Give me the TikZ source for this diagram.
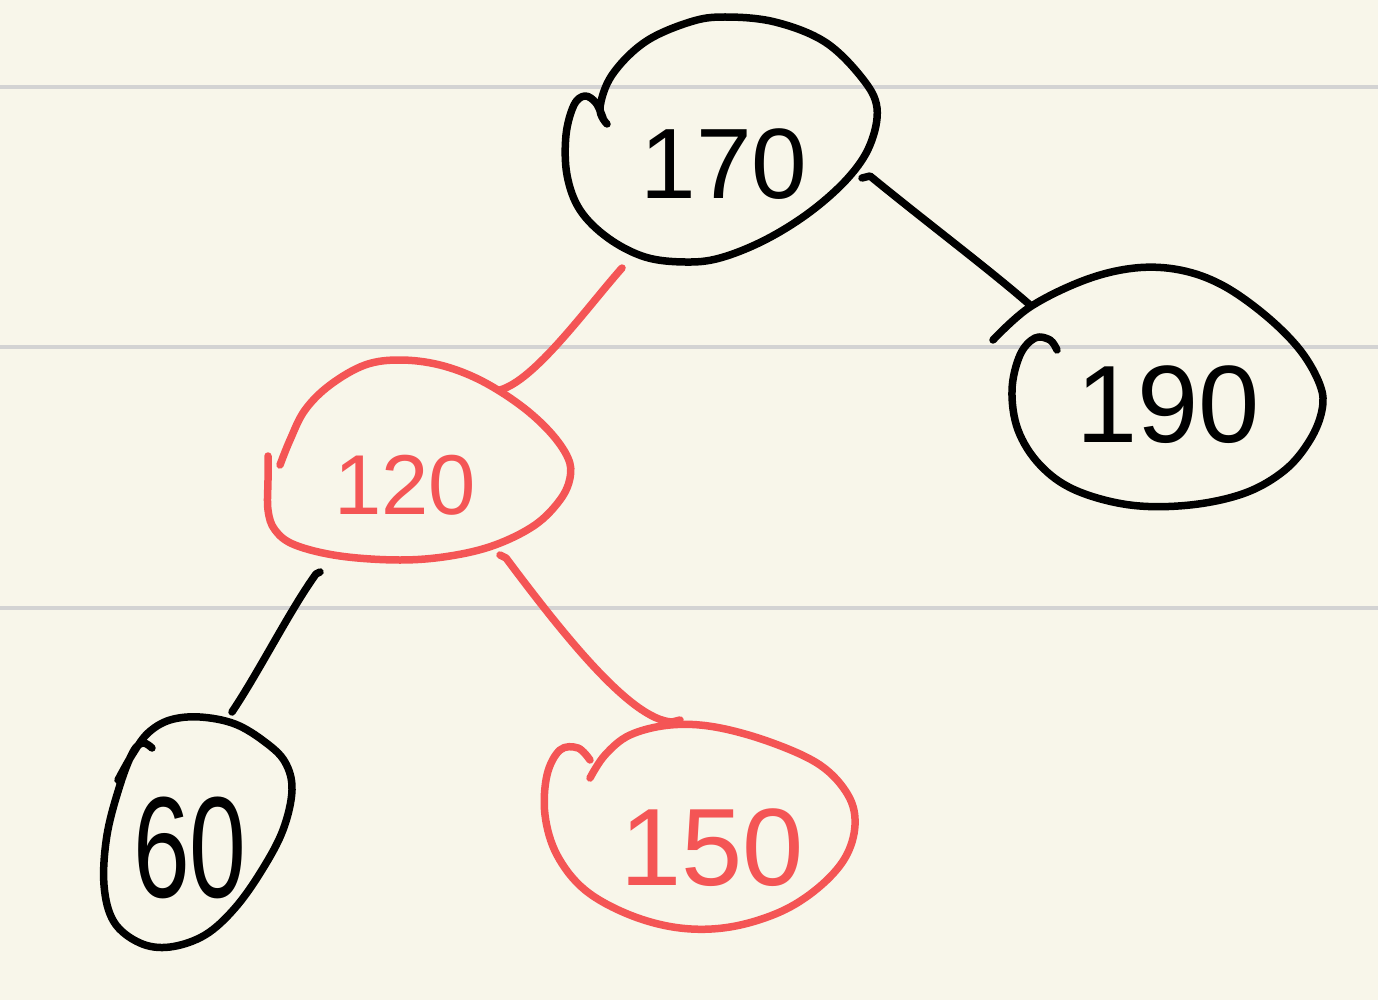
\documentclass[tikz,border=0pt]{standalone}
\usepackage{fontspec}
\setmainfont{Liberation Sans}
\definecolor{paper}{HTML}{F8F6EA}
\definecolor{rule}{HTML}{D3D3D3}
\definecolor{ink}{HTML}{000000}
\definecolor{redink}{HTML}{F45555}
\tikzset{
  pen/.style={line width=7.5pt, line cap=round, line join=round},
  blackpen/.style={pen, draw=ink},
  redpen/.style={pen, draw=redink},
  num/.style={inner sep=0pt, font=\fontsize{#1}{#1}\selectfont},
}
\begin{document}
\begin{tikzpicture}[x=1pt,y=-1pt]
\fill[paper] (0,0) rectangle (1378,1000);
\useasboundingbox (0,0) rectangle (1378,1000);
% ruled lines
\foreach \yy in {87,347,608} \draw[rule, line width=4pt] (0,\yy) -- (1378,\yy);

% hand-drawn outlines
\draw[blackpen] plot[smooth, tension=0.6] coordinates {(607,124) (600,108) (612,75) (645,42) (690,22) (725,17) (775,22) (825,42) (862,78) (877,108) (870,145) (848,178) (810,212) (765,240) (720,258) (685,262) (645,257) (608,238) (580,210) (567,175) (566,135) (574,105) (585,96) (596,103) (603,118)};
\draw[blackpen] plot[smooth, tension=0.6] coordinates {(993,340) (1030,307) (1085,280) (1135,268) (1180,270) (1222,285) (1265,315) (1300,350) (1320,385) (1322,410) (1310,440) (1285,470) (1245,493) (1190,505) (1130,505) (1075,490) (1040,465) (1018,430) (1012,390) (1020,355) (1035,338) (1050,340) (1057,350)};
\draw[redpen] plot[smooth, tension=0.6] coordinates {(280,465) (290,440) (305,410) (330,385) (365,365) (400,360) (440,365) (480,380) (520,405) (550,432) (568,458) (570,478) (560,500) (535,525) (495,545) (450,556) (400,560) (340,556) (295,545) (275,530) (268,510) (268,480) (268,456)};
\draw[blackpen] plot[smooth, tension=0.6] coordinates {(152,748) (143,743) (133,752) (120,785) (107,835) (104,885) (114,922) (140,943) (170,947) (205,935) (235,908) (262,870) (283,830) (292,790) (285,762) (265,742) (235,724) (200,717) (170,720) (148,733) (132,755) (118,780)};
\draw[redpen] plot[smooth, tension=0.6] coordinates {(590,778) (605,755) (630,735) (670,725) (715,727) (770,742) (820,765) (848,795) (855,825) (845,858) (818,888) (780,912) (730,927) (680,928) (630,915) (585,890) (557,855) (545,815) (547,775) (560,750) (578,748) (590,760)};

% connector end points on the outlines
\coordinate (c170a) at (622,268);
\coordinate (c120a) at (500,390);
\coordinate (c170b) at (862,178);
\coordinate (c190a) at (1030,305);
\coordinate (c120b) at (320,572);
\coordinate (c60a)  at (232,712);
\coordinate (c120c) at (500,555);
\coordinate (c150a) at (680,720);

% connectors
\draw[redpen] (c170a) .. controls (585,310) and (535,380) .. (c120a);
\draw[blackpen] (c170b) -- (870,176) .. controls (930,225) and (990,270) .. (c190a);
\draw[blackpen] (c120b) -- (316,574) .. controls (290,610) and (260,670) .. (c60a);
\draw[redpen] (c120c) -- (506,558) .. controls (560,630) and (630,720) .. (672,722) -- (c150a);

% labels
\node[num=100, text=ink] (t170) at (724,164) {170};
\node[num=110, text=ink] (t190) at (1168,405) {190};
\node[num=85, text=redink] (t120) at (405,485) {120};
\node[num=110, text=redink] (t150) at (712,848) {150};
\node[num=120, text=ink, xscale=0.85, yscale=1.2] (t60) at (190,848) {60};
\end{tikzpicture}
\end{document}
